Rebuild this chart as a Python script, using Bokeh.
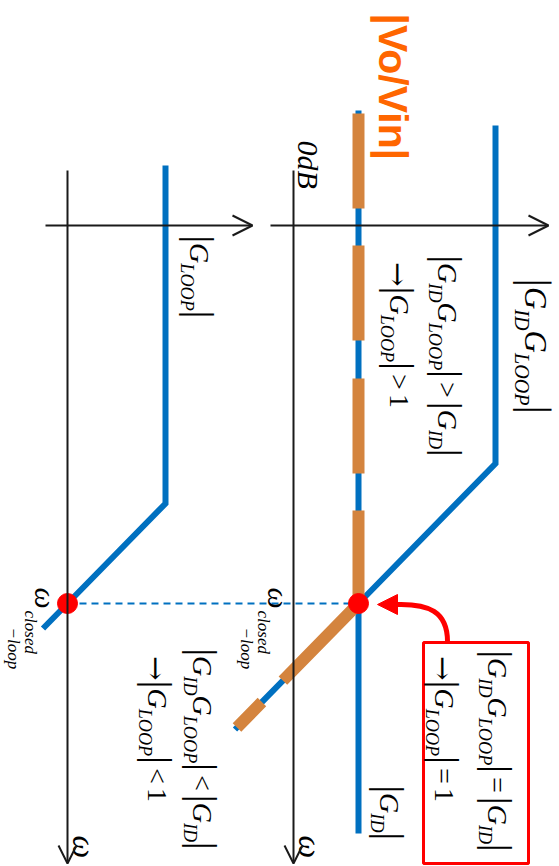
import math
from bokeh.plotting import figure
from bokeh.models import Range1d, ColumnDataSource, Arrow, OpenHead, NormalHead
from bokeh.core.properties import value
from bokeh.embed import file_html
from bokeh.resources import INLINE

# Asymptotic Bode magnitudes, drawn with frequency running downwards.
# w axis: log10(w / w_closed-loop) in decades; magnitude axis: dB.

# left panel: loop gain |G_LOOP|
loop_logw = [-4.38, -1.00, 0.00, 0.25]
loop_db = [19.6, 19.6, 0.0, -4.9]

# right panel: |G_ID|, |G_ID G_LOOP| and the resulting |Vo/Vin|
gid_logw = [-4.93, 2.30]
gid_db = [13.0, 13.0]
gidloop_logw = [-4.78, -1.40, 0.00, 1.26]
gidloop_db = [40.4, 40.4, 13.0, -11.7]
vovin_logw = [-4.90, 0.00, 1.24]
vovin_db = [13.0, 13.0, -11.3]

# closed-loop crossover: |G_LOOP| = 1 (0 dB) and |G_ID G_LOOP| = |G_ID|
cross_logw = [0.0]
cross_loop_db = [0.0]
cross_gid_db = [13.0]

W, H = 559, 866
X_LEFT = (-13.4, 98.4)     # dB, left panel
X_RIGHT = (-58.6, 53.2)    # dB, right panel
Y_LOGW = (2.63, -6.03)     # decades, increasing downwards
PX_PER_DB = W / (X_LEFT[1] - X_LEFT[0])
PX_PER_DEC = H / (Y_LOGW[0] - Y_LOGW[1])
PANEL_SHIFT = X_LEFT[0] - X_RIGHT[0]   # right-panel dB -> left-panel dB

BLUE = "#0070C0"
TRACE = "#D4843E"
RED = "#FF0000"
AXIS = "#1A1A1A"
TITLE = "#FF6600"
SERIF = "Liberation Serif"
ROT = -math.pi / 2
# rotated text sits this fraction of its size off the requested baseline
BASE_FIX = 0.42

p = figure(width=W, height=H, x_range=Range1d(*X_LEFT), y_range=Range1d(*Y_LOGW),
           output_backend="svg", toolbar_location=None, min_border=0,
           x_axis_location=None, y_axis_location=None)
p.extra_x_ranges = {"right": Range1d(*X_RIGHT)}
p.grid.visible = False
p.outline_line_color = None
p.background_fill_color = "white"
p.border_fill_color = "white"

# axes: w axis (downwards) and magnitude axis (to the right) for each panel
for rng, mag_start, mag_end in (("default", -4.4, 37.0), ("right", -4.6, 51.0)):
    p.add_layout(Arrow(end=OpenHead(size=18, line_width=2, line_color=AXIS),
                       x_start=0, y_start=-4.33, x_end=0, y_end=2.6,
                       line_width=2, line_color=AXIS, x_range_name=rng))
    p.add_layout(Arrow(end=OpenHead(size=20, line_width=2, line_color=AXIS),
                       x_start=mag_start, y_start=-3.78, x_end=mag_end, y_end=-3.78,
                       line_width=2, line_color=AXIS, x_range_name=rng))

# dashed marker joining the two crossover points
p.line([cross_loop_db[0], cross_gid_db[0] + PANEL_SHIFT], [cross_logw[0], cross_logw[0]],
       line_color=BLUE, line_width=2, line_dash="7 5")

# curves
p.line(loop_db, loop_logw, line_color=BLUE, line_width=6, line_join="miter")
p.line(gid_db, gid_logw, line_color=BLUE, line_width=6, x_range_name="right")
p.line(gidloop_db, gidloop_logw, line_color=BLUE, line_width=6, line_join="miter",
       x_range_name="right")
p.line(vovin_db, vovin_logw, line_color=TRACE, line_width=12, line_cap="butt",
       line_dash="95 37 95 38 95 37 201 30 60", x_range_name="right")

# crossover points
p.scatter(cross_loop_db, cross_logw, size=20, color=RED)
p.scatter(cross_gid_db, cross_logw, size=20, color=RED, x_range_name="right")

# call-out box with its curved pointer
p.quad(left=[26.0], right=[47.0], top=[0.39], bottom=[2.60], fill_color=None,
       line_color=RED, line_width=3, x_range_name="right")
p.bezier(x0=[30.8], y0=[0.38], x1=[20.6], y1=[0.01], cx0=[30.8], cy0=[0.08],
         cx1=[27.0], cy1=[0.0], line_color=RED, line_width=5, x_range_name="right")
p.add_layout(Arrow(end=NormalHead(size=20, fill_color=RED, line_color=RED),
                   x_start=21.5, y_start=0.01, x_end=16.8, y_end=0.01,
                   line_color=RED, line_width=5, x_range_name="right"))

# ---- math-style labels (rotated, with subscripts) ----
ARW = "\u2192"
ADV = {"|": 0.20, "=": 0.564, ">": 0.564, "<": 0.564, "1": 0.5, ARW: 0.84,
       "G": 0.722, "I": 0.333, "D": 0.722, "L": 0.556, "O": 0.722, "P": 0.611}


def adv(s, size):
    return sum(ADV[c] for c in s) * size


def expr_runs(tokens, S):
    sub, bar = 0.65 * S, 1.36 * S
    runs = []  # text, font, size, style, shift, gap before, advance
    for tok in tokens:
        if tok == "|":
            runs.append(("|", SERIF, bar, "normal", -0.12 * S, 0, adv("|", bar)))
        elif tok in ("=", "<", ">"):
            runs.append((tok, SERIF, S, "normal", 0, 0.15 * S, adv(tok, S) + 0.15 * S))
        elif tok == "1":
            runs.append((tok, SERIF, S, "normal", 0, 0, adv(tok, S)))
        elif tok == ARW:
            size = 1.05 * S
            runs.append((tok, "DejaVu Serif", size, "normal", -0.05 * S, -0.05 * S,
                         adv(tok, size)))
        else:
            base, subscript = tok
            runs.append((base, SERIF, S, "italic", 0, 0, adv(base, S)))
            runs.append((subscript, SERIF, sub, "italic", -0.28 * S, 0, adv(subscript, sub)))
    return runs


def draw_runs(runs, x0, y0, rng):
    cols = dict(x=[], y=[], t=[], ffont=[], fsize=[], fstyle=[])
    a = 0.0
    for text, font, size, style, shift, pre, step in runs:
        a += pre
        cols["x"].append(x0 + (shift + BASE_FIX * size) / PX_PER_DB)
        cols["y"].append(y0 + a / PX_PER_DEC)
        cols["t"].append(text)
        cols["ffont"].append(font)
        cols["fsize"].append(f"{size:.1f}px")
        cols["fstyle"].append(style)
        a += step
    p.text(x="x", y="y", text="t", source=ColumnDataSource(cols), angle=ROT,
           text_font="ffont", text_font_size="fsize", text_font_style="fstyle",
           text_align="left", text_baseline="alphabetic", text_color="#000000",
           x_range_name=rng)


label_gg = ["|", ("G", "ID"), ("G", "LOOP"), "|"]
label_gid = ["|", ("G", "ID"), "|"]
label_loop = ["|", ("G", "LOOP"), "|"]

draw_runs(expr_runs(label_loop, 28), 24.0, -3.68, "default")
draw_runs(expr_runs(label_gg, 31), 45.8, -3.25, "right")
draw_runs(expr_runs(label_gg + [">"] + label_gid, 28), 28.4, -3.48, "right")
draw_runs(expr_runs([ARW] + label_loop + [">", "1"], 28), 18.8, -3.40, "right")
draw_runs(expr_runs(label_gg + ["<"] + label_gid, 28), 24.6, 0.45, "default")
draw_runs(expr_runs([ARW] + label_loop + ["<", "1"], 28), 15.6, 0.54, "default")
draw_runs(expr_runs(label_gg + ["="] + label_gid, 28), 38.4, 0.47, "right")
draw_runs(expr_runs([ARW] + label_loop + ["=", "1"], 28), 27.8, 0.54, "right")
draw_runs(expr_runs(label_gid, 28), 16.8, 1.82, "right")


def italic_text(xs, ys, texts, size, rng):
    xs = [x + BASE_FIX * size / PX_PER_DB for x in xs]
    p.text(x=xs, y=ys, text=texts, angle=ROT, text_font=value(SERIF),
           text_font_size=f"{size}px", text_font_style="italic",
           text_align="left", text_baseline="alphabetic", text_color="#000000",
           x_range_name=rng)


# w_closed-loop labels next to each crossover point
for rng, x0 in (("default", -7.0), ("right", -5.6)):
    italic_text([x0], [-0.16], ["\u03c9"], 30, rng)
    italic_text([x0 - 9 / PX_PER_DB, x0 - 26 / PX_PER_DB],
                [-0.16 + 23 / PX_PER_DEC, -0.16 + 40 / PX_PER_DEC],
                ["closed", "\u2212loop"], 17, rng)
    italic_text([0.6], [2.32], ["\u03c9"], 32, rng)

italic_text([0.4], [-4.63], ["0dB"], 30, "right")

p.text(x=[16.4 + BASE_FIX * 41 / PX_PER_DB], y=[-5.90], text=["|Vo/Vin|"], angle=ROT,
       text_font=value("Liberation Sans"), text_font_style="bold",
       text_font_size="41px", text_color=TITLE, text_align="left",
       text_baseline="alphabetic", x_range_name="right")

open("out.html", "w").write(file_html(p, INLINE))
